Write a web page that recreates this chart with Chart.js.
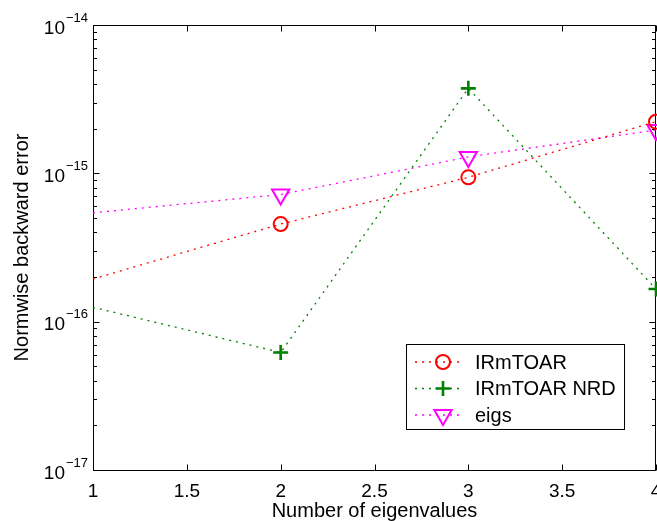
<!DOCTYPE html>
<html><head><meta charset="utf-8">
<script src="https://cdn.jsdelivr.net/npm/chart.js@4.4.0/dist/chart.umd.min.js"></script>
<style>html,body{margin:0;padding:0;background:#fff;} #wrap{width:657px;height:521px;}</style>
</head><body><div id="wrap"><canvas id="c" width="657" height="521"></canvas></div>
<script>
const xValues = [1, 2, 3, 4];
const irmtoar = [1.94e-16, 4.55e-16, 9.4e-16, 2.23e-15];
const irmtoarNRD = [1.25e-16, 6.2e-17, 3.74e-15, 1.66e-16];
const eigs = [5.42e-16, 7.2e-16, 1.29e-15, 1.96e-15];
const seriesNames = ['IRmTOAR', 'IRmTOAR NRD', 'eigs'];
const xTicks = [1, 1.5, 2, 2.5, 3, 3.5, 4];
const yDecades = [-17, -16, -15, -14];
const yTickExponents = ['\u221217', '\u221216', '\u221215', '\u221214'];
const xTitle = 'Number of eigenvalues';
const yTitle = 'Normwise backward error';

const FONT = '"Liberation Sans", Arial, Helvetica, sans-serif';
Chart.defaults.font.family = FONT;
Chart.defaults.color = '#000';

function ds(label, vals, color, style, radius, rotation, bw) {
  // no marker is shown at the left boundary point (x = 1) in the reference
  const radii = xValues.map((x, i) => (i === 0 ? 0 : radius));
  return {
    label,
    data: xValues.map((x, i) => ({x, y: vals[i]})),
    borderColor: color, backgroundColor: 'rgba(0,0,0,0)',
    borderWidth: 1.3, borderDash: [2, 5],
    pointStyle: style, pointRadius: radii, pointHoverRadius: radii,
    legendRadius: radius,
    pointBorderWidth: bw, pointHoverBorderWidth: bw, pointBorderColor: color,
    pointBackgroundColor: 'rgba(0,0,0,0)', pointRotation: rotation,
    tension: 0, fill: false, clip: false
  };
}

const datasets = [
  ds(seriesNames[0], irmtoar, '#ff0000', 'circle', 7, 0, 2),
  ds(seriesNames[1], irmtoarNRD, '#008000', 'cross', 7.5, 0, 2.6),
  ds(seriesNames[2], eigs, '#ff00ff', 'triangle', 10, 180, 2)
];

function px(v){ return Math.round(v) + 0.5; }

const matlabAxes = {
  id: 'matlabAxes',
  beforeDatasetsDraw(chart) {
    const {ctx, chartArea: a, scales: {x, y}} = chart;
    ctx.save();
    ctx.strokeStyle = '#000';
    ctx.lineWidth = 1;
    const L = px(a.left), R = px(a.right) - 1, T = px(a.top), B = px(a.bottom);
    ctx.beginPath();
    ctx.rect(L, T, R - L, B - T);
    ctx.stroke();
    ctx.beginPath();
    xTicks.forEach(v => {
      const p = px(x.getPixelForValue(v));
      ctx.moveTo(p, B); ctx.lineTo(p, B - 6);
      ctx.moveTo(p, T); ctx.lineTo(p, T + 6);
    });
    yDecades.forEach((d, i) => {
      const p = px(y.getPixelForValue(Math.pow(10, d)));
      ctx.moveTo(L, p); ctx.lineTo(L + 6, p);
      ctx.moveTo(R, p); ctx.lineTo(R - 6, p);
      if (i < yDecades.length - 1) {
        for (let m = 2; m <= 9; m++) {
          const q = px(y.getPixelForValue(m * Math.pow(10, d)));
          ctx.moveTo(L, q); ctx.lineTo(L + 3.5, q);
          ctx.moveTo(R, q); ctx.lineTo(R - 3.5, q);
        }
      }
    });
    ctx.stroke();
    ctx.restore();
  },
  afterDatasetsDraw(chart) {
    const {ctx, scales: {y}} = chart;
    ctx.save();
    ctx.fillStyle = '#000';
    ctx.textBaseline = 'alphabetic';
    yDecades.forEach((d, i) => {
      const p = y.getPixelForValue(Math.pow(10, d));
      ctx.font = '13px ' + FONT;
      ctx.textAlign = 'right';
      const e = yTickExponents[i];
      const w = ctx.measureText(e).width;
      ctx.fillText(e, 88, p - 3.5);
      ctx.font = '19px ' + FONT;
      ctx.fillText('10', 88 - w - 1, p + 8.5);
    });
    // legend
    const bx = 406.5, by = 344.5, bw = 218, bh = 85;
    ctx.fillStyle = '#fff';
    ctx.fillRect(bx, by, bw, bh);
    ctx.strokeStyle = '#000';
    ctx.lineWidth = 1;
    ctx.strokeRect(bx, by, bw, bh);
    const rows = [362, 388.5, 415];
    chart.data.datasets.forEach((dset, i) => {
      const ry = rows[i];
      ctx.save();
      ctx.strokeStyle = dset.borderColor;
      ctx.lineWidth = dset.borderWidth;
      ctx.setLineDash(dset.borderDash);
      ctx.beginPath();
      ctx.moveTo(415, ry); ctx.lineTo(464, ry);
      ctx.stroke();
      ctx.setLineDash([]);
      ctx.fillStyle = 'rgba(0,0,0,0)';
      ctx.lineWidth = dset.pointBorderWidth;
      Chart.helpers.drawPoint(ctx, {
        pointStyle: dset.pointStyle, rotation: dset.pointRotation,
        radius: dset.legendRadius, borderWidth: dset.pointBorderWidth
      }, 443, ry);
      ctx.restore();
      ctx.fillStyle = '#000';
      ctx.font = '20px ' + FONT;
      ctx.textAlign = 'left';
      ctx.fillText(dset.label, 475, ry + 6.5);
    });
    ctx.restore();
  }
};

new Chart(document.getElementById('c'), {
  type: 'line',
  data: { datasets },
  options: {
    responsive: false, animation: false,
    layout: { autoPadding: false, padding: { top: 25, right: 1, left: 0, bottom: 0 } },
    plugins: { legend: { display: false }, tooltip: { enabled: false } },
    events: [],
    scales: {
      x: {
        type: 'linear', min: 1, max: 4, position: 'bottom',
        afterBuildTicks: s => { s.ticks = xTicks.map(v => ({value: v})); },
        ticks: { font: { size: 19 }, color: '#000', padding: 2, maxRotation: 0, autoSkip: false,
                 callback: v => String(v) },
        grid: { display: false }, border: { display: false },
        title: { display: true, text: xTitle, color: '#000', font: { size: 20, lineHeight: 1 },
                 padding: { top: 0, bottom: 0 } },
        afterFit: s => { s.height = 51; s.paddingLeft = 0; s.paddingRight = 0; }
      },
      y: {
        type: 'logarithmic', min: 1e-17, max: 1e-14, position: 'left',
        ticks: { display: false }, grid: { display: false }, border: { display: false },
        title: { display: true, text: yTitle, color: '#000', font: { size: 20, lineHeight: 1.2 },
                 padding: { top: 10, bottom: 0 } },
        afterFit: s => { s.width = 93; s.paddingTop = 0; s.paddingBottom = 0; }
      }
    }
  },
  plugins: [matlabAxes]
});
</script>
</body></html>
